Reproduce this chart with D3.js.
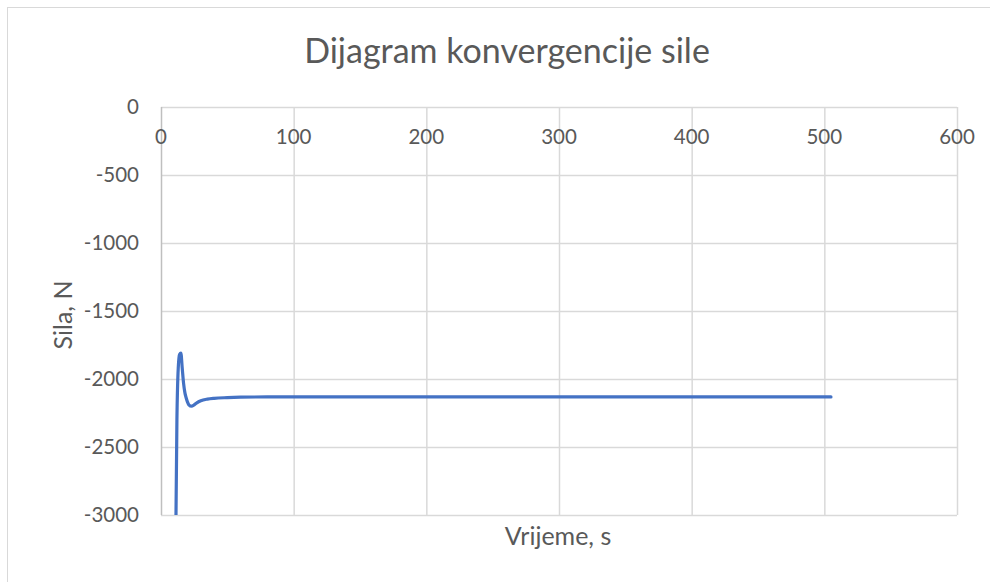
<!DOCTYPE html>
<html><head><meta charset="utf-8">
<script src="https://cdn.jsdelivr.net/npm/d3@7"></script>
<style>body{margin:0;background:#fff;}svg{display:block;font-family:Lato,"Open Sans",sans-serif;}</style>
</head><body><svg id="c" width="990" height="582"></svg>
<script>
const timeValues = [11,12,13,14,15,16,17,18,19,20,21,23,25,27,30,35,40,50,60,80,100,150,200,250,300,350,400,450,500,505];
const forceValues = [-3300,-2300,-1920,-1820,-1810,-1920,-2030,-2100,-2140,-2170,-2190,-2200,-2190,-2175,-2160,-2148,-2142,-2137,-2134,-2132,-2132,-2132,-2132,-2132,-2132,-2132,-2132,-2132,-2132,-2132];
const xTicks = [0,100,200,300,400,500,600];
const yTicks = [0,-500,-1000,-1500,-2000,-2500,-3000];
const title = "Dijagram konvergencije sile";
const xTitle = "Vrijeme, s";
const yTitle = "Sila, N";

const svg = d3.select("#c");
const grey = "#595959", gridC = "#d9d9d9";
svg.append("rect").attr("x",7.5).attr("y",7.5).attr("width",1000).attr("height",600)
  .attr("fill","#fff").attr("stroke",gridC);

const L=161,R=957,T=107,B=515;
const x = d3.scaleLinear().domain([0,600]).range([L,R]);
const y = d3.scaleLinear().domain([-3000,0]).range([B,T]);

// grid
svg.append("g").selectAll("line").data(yTicks).join("line")
  .attr("x1",L).attr("x2",R).attr("y1",d=>y(d)+0.5).attr("y2",d=>y(d)+0.5)
  .attr("stroke",gridC).attr("stroke-width",1.5);
svg.append("g").selectAll("line").data(xTicks.slice(1)).join("line")
  .attr("y1",T).attr("y2",B).attr("x1",d=>x(d)+0.5).attr("x2",d=>x(d)+0.5)
  .attr("stroke",gridC).attr("stroke-width",1.5);
// y axis line
svg.append("line").attr("x1",L+0.5).attr("x2",L+0.5).attr("y1",T).attr("y2",B)
  .attr("stroke","#bfbfbf").attr("stroke-width",1.5);

// tick labels
svg.append("g").selectAll("text").data(yTicks).join("text")
  .attr("x",139).attr("y",d=>y(d)).attr("dy","0.35em").attr("text-anchor","end")
  .attr("fill",grey).attr("font-size",20.5).text(d=>d);
svg.append("g").selectAll("text").data(xTicks).join("text")
  .attr("x",d=>x(d)).attr("y",y(0)+30).attr("dy","0.35em").attr("text-anchor","middle")
  .attr("fill",grey).attr("font-size",20.5).text(d=>d);

// line
svg.append("clipPath").attr("id","clip").append("rect").attr("x",L).attr("y",T-20).attr("width",R-L).attr("height",B-T+20);
const data = timeValues.map((t,i)=>({t,v:forceValues[i]}));
const line = d3.line().x(d=>x(d.t)).y(d=>y(d.v)).curve(d3.curveMonotoneX);
svg.append("path").datum(data).attr("d",line).attr("clip-path","url(#clip)")
  .attr("fill","none").attr("stroke","#4472C4").attr("stroke-width",3.2).attr("stroke-linecap","round");

// titles
svg.append("text").attr("x",507).attr("y",63).attr("text-anchor","middle")
  .attr("fill",grey).attr("font-size",34).text(title);
svg.append("text").attr("x",558).attr("y",545).attr("text-anchor","middle")
  .attr("fill",grey).attr("font-size",25).text(xTitle);
svg.append("text").attr("transform","translate(72,315) rotate(-90)").attr("text-anchor","middle")
  .attr("fill",grey).attr("font-size",25).text(yTitle);
</script></body></html>
